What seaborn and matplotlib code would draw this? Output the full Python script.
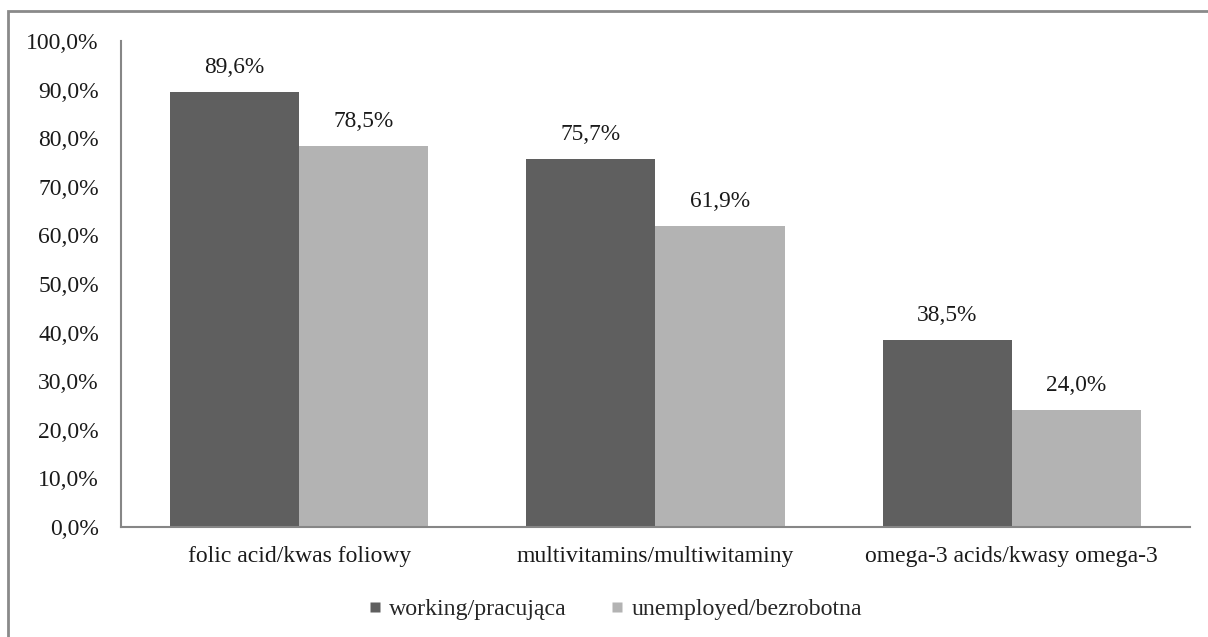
import matplotlib
matplotlib.use("Agg")
import matplotlib.pyplot as plt
from matplotlib.patches import Rectangle
from matplotlib.lines import Line2D
import seaborn as sns
import pandas as pd

categories = ["folic acid/kwas foliowy", "multivitamins/multiwitaminy", "omega-3 acids/kwasy omega-3"]
series_names = ["working/pracująca", "unemployed/bezrobotna"]
working = [89.6, 75.7, 38.5]
unemployed = [78.5, 61.9, 24.0]
colors = ["#5f5f5f", "#b3b3b3"]
y_ticks = [0, 10, 20, 30, 40, 50, 60, 70, 80, 90, 100]

rows = []
for cat, w, u in zip(categories, working, unemployed):
    rows.append({"category": cat, "group": series_names[0], "value": w})
    rows.append({"category": cat, "group": series_names[1], "value": u})
df = pd.DataFrame(rows)

sns.set_theme(style="white")
plt.rcParams["font.family"] = ["Liberation Serif", "DejaVu Serif"]

def pct(v):
    return f"{v:.1f}%".replace(".", ",")

fig = plt.figure(figsize=(12.08, 6.37), dpi=100)
ax = fig.add_axes([0.1002, 0.1727, 0.8848, 0.7629])

sns.barplot(data=df, x="category", y="value", hue="group", order=categories,
            hue_order=series_names, palette=colors, width=0.725, saturation=1,
            edgecolor="none", linewidth=0, legend=False, ax=ax)

for container in ax.containers:
    ax.bar_label(container, labels=[pct(b.get_height()) for b in container],
                 padding=10, fontsize=16.8, color="#1a1a1a")

ax.set_ylim(0, 100)
ax.set_yticks(y_ticks)
ax.set_yticklabels([pct(v) for v in y_ticks])
ax.set_xlabel("")
ax.set_ylabel("")
ax.tick_params(axis="both", length=0, colors="#1a1a1a")
ax.tick_params(axis="y", pad=16, labelsize=17)
ax.tick_params(axis="x", pad=14, labelsize=17)

for side in ["top", "right"]:
    ax.spines[side].set_visible(False)
for side in ["left", "bottom"]:
    ax.spines[side].set_color("#868686")
    ax.spines[side].set_linewidth(1.5)

handles = [Line2D([], [], linestyle="none", marker="s", markersize=7,
                  markerfacecolor=c, markeredgecolor="none") for c in colors]
fig.legend(handles, series_names, loc="center", bbox_to_anchor=(0.509, 0.043),
           ncol=2, frameon=False, fontsize=17.2, handlelength=0.6,
           handletextpad=0.3, columnspacing=1.8)

# outer frame around the chart area
fig.patches.append(Rectangle((8 / 1208, -0.05), 1.2, (637 - 11) / 637 + 0.05,
                             transform=fig.transFigure, fill=False,
                             edgecolor="#8a8a8a", linewidth=2))

fig.savefig("out.png", dpi=100)
